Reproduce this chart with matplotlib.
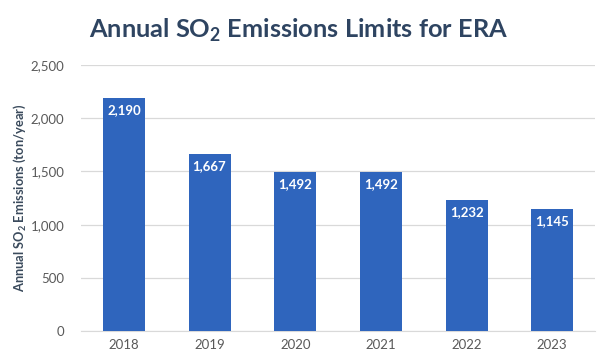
import matplotlib.pyplot as plt
import numpy as np

years = ["2018", "2019", "2020", "2021", "2022", "2023"]
limits = [2190, 1667, 1492, 1492, 1232, 1145]
yticks = [0, 500, 1000, 1500, 2000, 2500]

plt.rcParams['font.family'] = ['Lato', 'DejaVu Sans']
plt.rcParams['mathtext.fontset'] = 'custom'
plt.rcParams['mathtext.rm'] = 'Lato:bold'

fig = plt.figure(figsize=(5.98, 3.58), dpi=100)
ax = fig.add_axes([0.1355, 0.0754, 0.8595, 0.7426])

x = np.arange(len(years))
ax.bar(x, limits, width=0.49, color="#2f65bd", zorder=3)
for xi, v in zip(x, limits):
    ax.text(xi, v - 55, "{:,}".format(v), ha="center", va="top",
            color="white", fontsize=9.5, fontweight="bold", zorder=4)

ax.set_xlim(-0.5, len(years) - 0.5)
ax.set_ylim(0, 2500)
ax.set_yticks(yticks)
ax.set_yticklabels(["{:,}".format(t) for t in yticks])
ax.set_xticks(x)
ax.set_xticklabels(years)
ax.tick_params(length=0, colors="#595959", labelsize=9.5)
ax.tick_params(axis="y", pad=12)
ax.tick_params(axis="x", pad=6)
ax.grid(axis="y", color="#d9d9d9", linewidth=0.9, zorder=0)
for s in ["top", "right", "left"]:
    ax.spines[s].set_visible(False)
ax.spines["bottom"].set_color("#d9d9d9")

ax.set_ylabel("Annual SO$_2$ Emissions (ton/year)", fontsize=9.3,
              fontweight="bold", color="#3a4a5c")
ax.yaxis.set_label_coords(-0.104, 0.5)

fig.text(0.5, 0.915, "Annual SO$_2$ Emissions Limits for ERA", ha="center",
         va="center", fontsize=18.3, fontweight="bold", color="#2e4461")

fig.savefig("out.png", dpi=100)
